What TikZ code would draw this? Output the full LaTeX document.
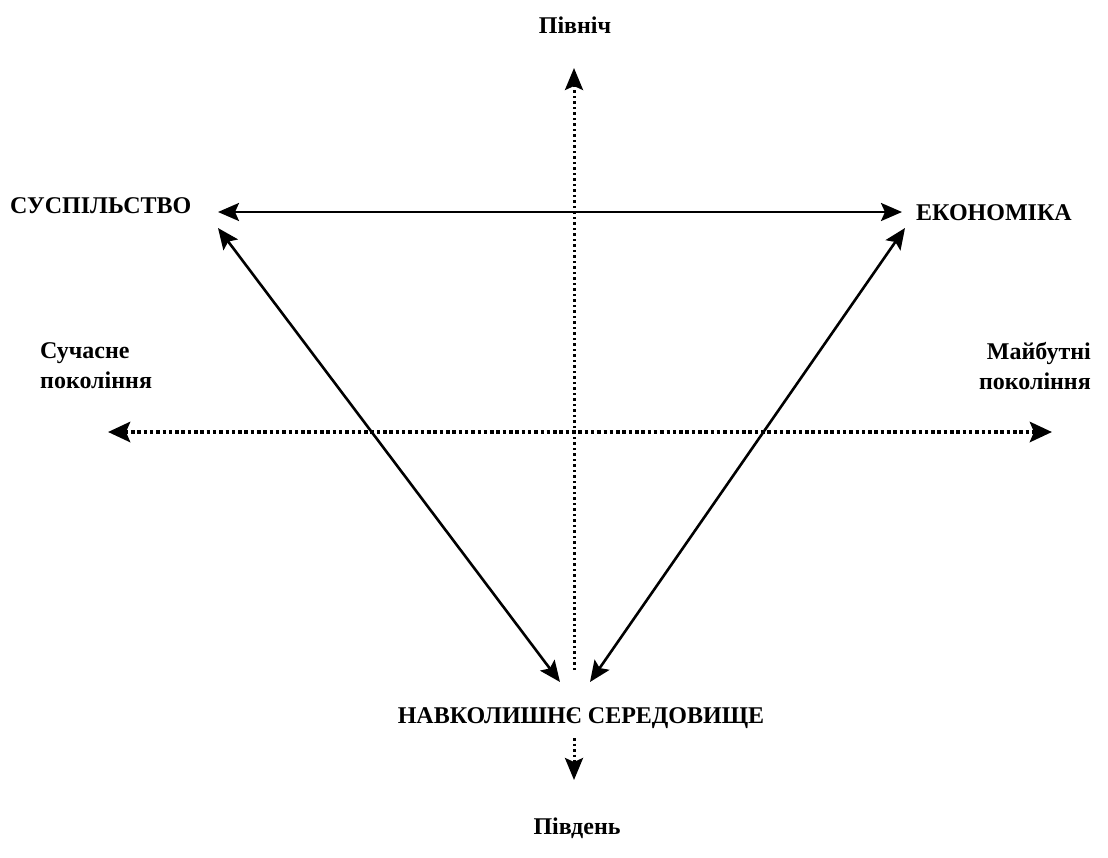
\documentclass[tikz,border=0pt]{standalone}
\usepackage{fontspec}
\setmainfont{Liberation Serif}
\usetikzlibrary{arrows.meta}
\begin{document}
\begin{tikzpicture}[x=1pt,y=-1pt,
  lbl/.style={font=\fontsize{24}{30}\selectfont\bfseries, inner sep=0pt},
  solidarrow/.style={line width=2.6pt, {Stealth[length=21pt,width=18pt,inset=4pt]}-{Stealth[length=21pt,width=18pt,inset=4pt]}},
  hdots/.style={line width=4.5pt, dash pattern=on 3.5pt off 2.8pt, {Stealth[length=22pt,width=20pt,inset=4pt]}-{Stealth[length=22pt,width=20pt,inset=4pt]}},
  vdots/.style={line width=3pt, dash pattern=on 2.5pt off 3pt},
  vhead/.style={-{Stealth[length=22pt,width=18pt,inset=4pt]}}]
\useasboundingbox (0,0) rectangle (1108,857);
% labels
\node[lbl] (north) at (575,25) {Північ};
\node[lbl, anchor=west] (soc) at (10,206) {СУСПІЛЬСТВО};
\node[lbl, anchor=west] (eco) at (916,213) {ЕКОНОМІКА};
\node[lbl, anchor=north west, align=left] (present) at (40,342) {Сучасне\\покоління};
\node[lbl, anchor=north east, align=right] (future) at (1091,342) {Майбутні\\покоління};
\node[lbl] (env) at (581,718) {НАВКОЛИШНЄ СЕРЕДОВИЩЕ};
\node[lbl] (south) at (577,828) {Південь};
% connector end points
\coordinate (socA) at (218,212);
\coordinate (ecoA) at (902,212);
\coordinate (socB) at (218,228);
\coordinate (ecoB) at (905,228);
\coordinate (envL) at (560,682);
\coordinate (envR) at (590,682);
\coordinate (westE) at (108,432);
\coordinate (eastE) at (1052,432);
\coordinate (northE) at (574,68);
\coordinate (vmid) at (574,670);
\coordinate (vlow) at (574,738);
\coordinate (southE) at (574,780);
% solid connectors
\draw[solidarrow] (socA) -- (ecoA);
\draw[solidarrow] (socB) -- (envL);
\draw[solidarrow] (ecoB) -- (envR);
% dotted axes
\draw[hdots] (westE) -- (eastE);
\draw[vdots, vhead] (vmid) -- (northE);
\draw[vdots, vhead] (vlow) -- (southE);
\end{tikzpicture}
\end{document}
